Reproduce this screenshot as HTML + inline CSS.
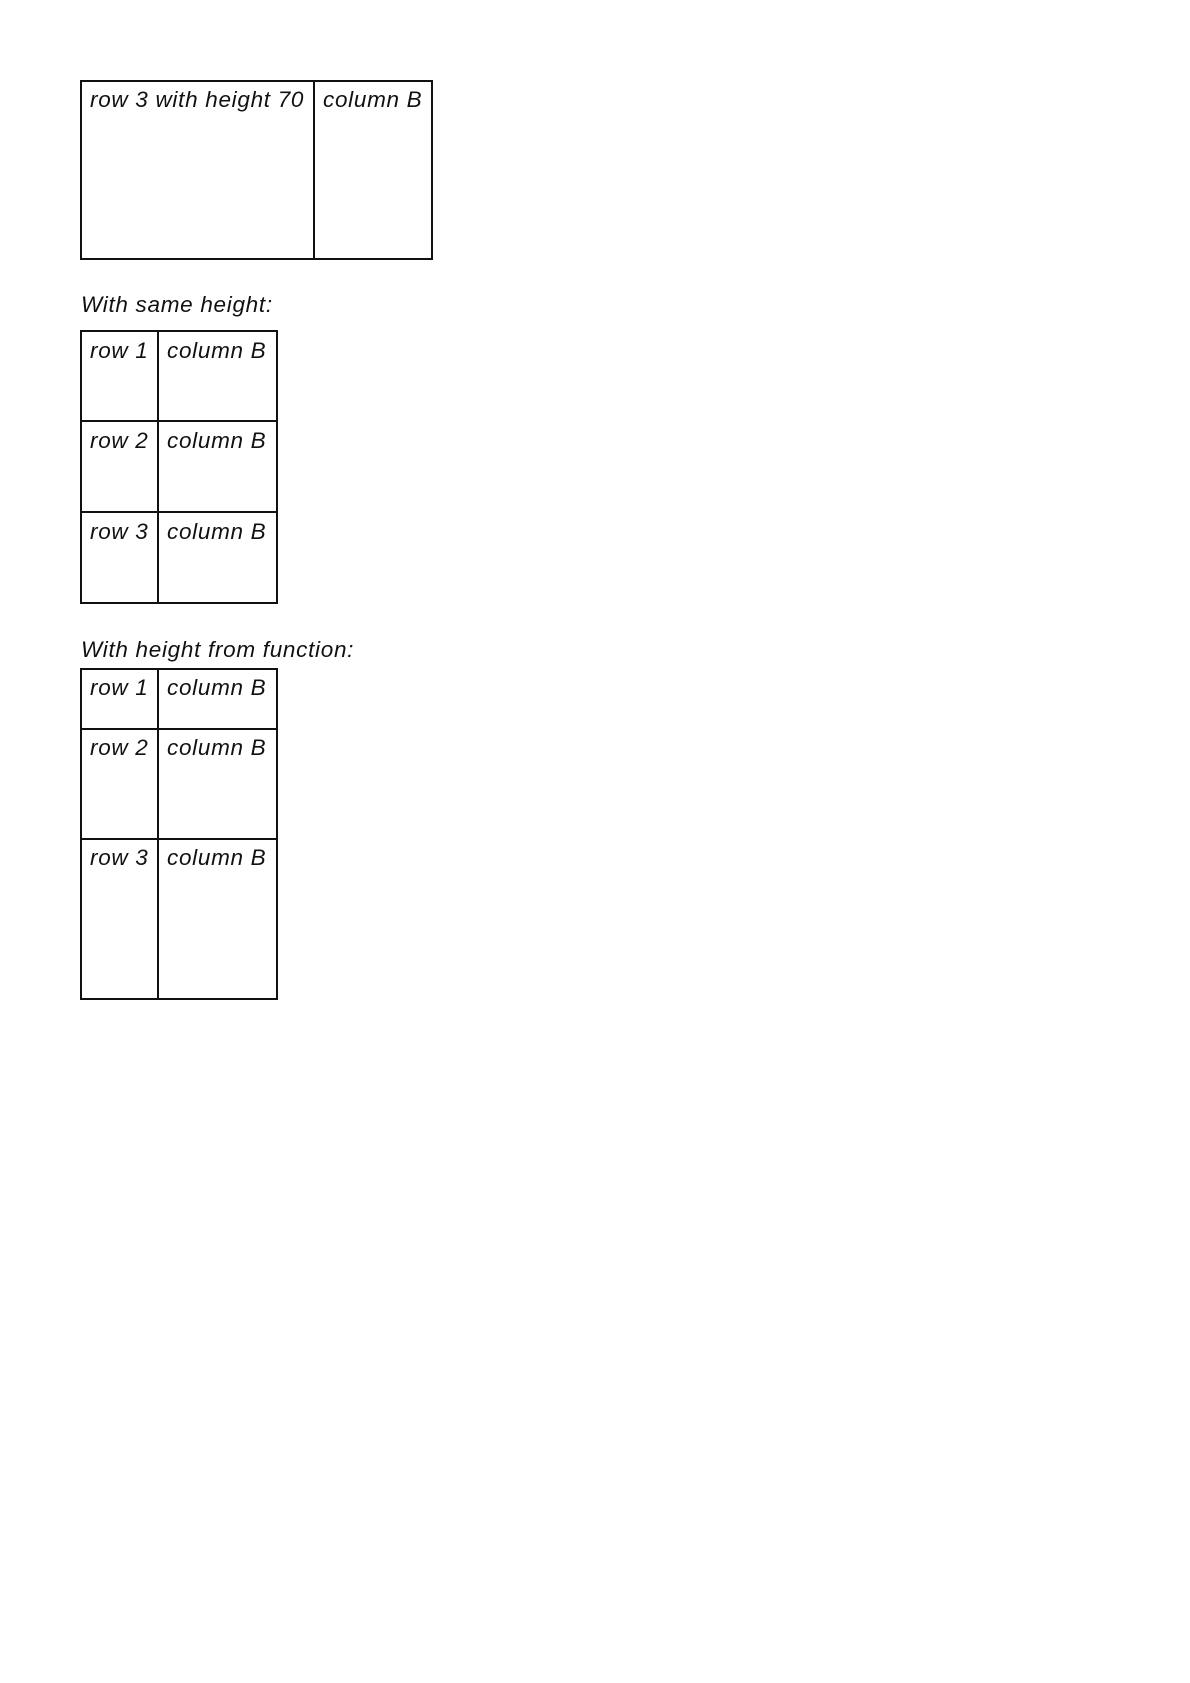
<!DOCTYPE html>
<html><head><meta charset="utf-8"><style>
html,body{margin:0;padding:0;background:#fff;width:1190px;height:1683px;overflow:hidden}
svg text{font-family:"Liberation Sans",sans-serif;font-style:italic;font-size:22.5px;fill:#111;letter-spacing:0.7px}
</style></head><body>
<svg width="1190" height="1683" viewBox="0 0 1190 1683" xmlns="http://www.w3.org/2000/svg">
<g stroke="#111" stroke-width="2" fill="none">
<rect x="81" y="81" width="351" height="178"/>
<line x1="314" y1="81" x2="314" y2="259"/>
<rect x="81" y="331" width="196" height="272"/>
<line x1="158" y1="331" x2="158" y2="603"/>
<line x1="81" y1="421" x2="277" y2="421"/>
<line x1="81" y1="512" x2="277" y2="512"/>
<rect x="81" y="669" width="196" height="330"/>
<line x1="158" y1="669" x2="158" y2="999"/>
<line x1="81" y1="729" x2="277" y2="729"/>
<line x1="81" y1="839" x2="277" y2="839"/>
</g>
<text x="90" y="107">row 3 with height 70</text>
<text x="323" y="107">column B</text>
<text x="81" y="312">With same height:</text>
<text x="90" y="358">row 1</text><text x="167" y="358">column B</text>
<text x="90" y="448">row 2</text><text x="167" y="448">column B</text>
<text x="90" y="539">row 3</text><text x="167" y="539">column B</text>
<text x="81" y="657">With height from function:</text>
<text x="90" y="695">row 1</text><text x="167" y="695">column B</text>
<text x="90" y="755">row 2</text><text x="167" y="755">column B</text>
<text x="90" y="865">row 3</text><text x="167" y="865">column B</text>
</svg>
</body></html>
